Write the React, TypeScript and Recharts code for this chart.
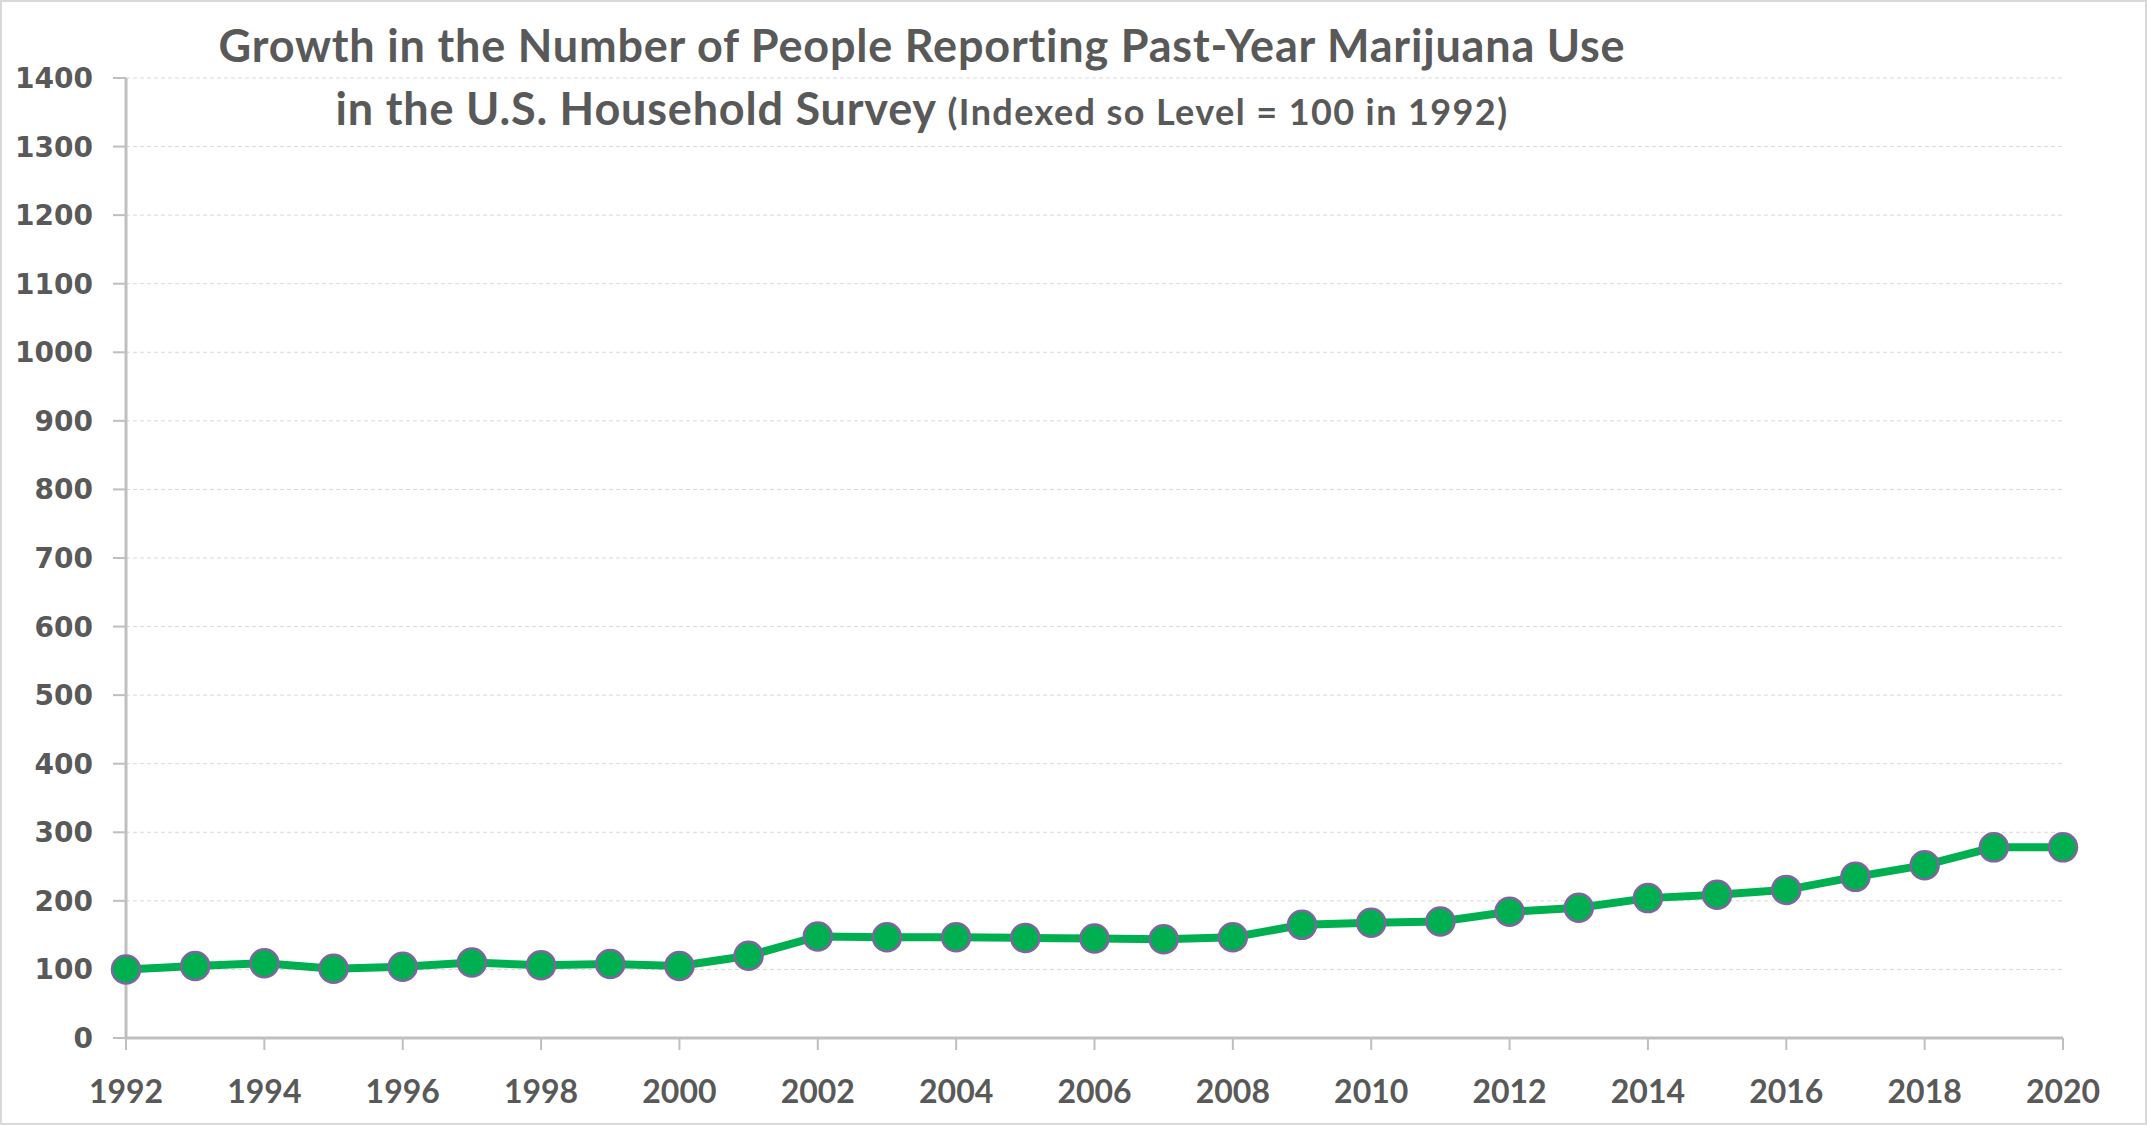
import { LineChart, Line, XAxis, YAxis, CartesianGrid } from "recharts";

const years = [
  1992, 1993, 1994, 1995, 1996, 1997, 1998, 1999, 2000, 2001, 2002, 2003, 2004, 2005, 2006,
  2007, 2008, 2009, 2010, 2011, 2012, 2013, 2014, 2015, 2016, 2017, 2018, 2019, 2020,
];
const indexValues = [
  100, 105, 109, 101, 104, 110, 106, 108, 105, 120, 148, 147, 147, 146, 145,
  144, 147, 165, 168, 170, 184, 190, 204, 209, 216, 235, 252, 278, 278,
];
const xTicks = [1992, 1994, 1996, 1998, 2000, 2002, 2004, 2006, 2008, 2010, 2012, 2014, 2016, 2018, 2020];
const xMinorTicks = Array.from({ length: 71 }, (_, i) => 1992 + i * 0.4);
const yTicks = [0, 100, 200, 300, 400, 500, 600, 700, 800, 900, 1000, 1100, 1200, 1300, 1400];
const yMinorTicks = Array.from({ length: 29 }, (_, i) => i * 50);

const data = years.map((year, i) => ({ year, value: indexValues[i] }));

const grey = "#595959";
const axisGrey = "#BFBFBF";

export default function App() {
  return (
    <div
      style={{
        position: "relative",
        width: 2147,
        height: 1125,
        border: "2px solid #D9D9D9",
        boxSizing: "border-box",
        background: "#fff",
      }}
    >
      <style>{`body{margin:0}`}</style>
      <div
        style={{
          position: "absolute",
          left: 0,
          top: 12,
          width: 1840,
          textAlign: "center",
          fontFamily: "Lato, sans-serif",
          fontWeight: 700,
          color: grey,
          fontSize: 45,
          letterSpacing: 0.8,
          lineHeight: "63px",
        }}
      >
        <div>Growth in the Number of People Reporting Past-Year Marijuana Use</div>
        <div>
          in the U.S. Household Survey{" "}
          <span style={{ fontSize: 36, letterSpacing: 1.4 }}>(Indexed so Level = 100 in 1992)</span>
        </div>
      </div>
      <div style={{ position: "absolute", left: -2, top: -2 }}>
        <LineChart width={2147} height={1125} data={data} margin={{ top: 78, right: 84, bottom: 0, left: 0 }}>
          <CartesianGrid vertical={false} stroke="#D9D9D9" strokeDasharray="4 3" />
          <XAxis
            xAxisId="minor"
            dataKey="year"
            type="number"
            domain={[1992, 2020]}
            ticks={xMinorTicks}
            interval={0}
            height={0}
            mirror
            tick={false}
            tickSize={9}
            axisLine={false}
            tickLine={{ stroke: axisGrey, strokeWidth: 2 }}
          />
          <XAxis
            dataKey="year"
            type="number"
            domain={[1992, 2020]}
            ticks={xTicks}
            interval={0}
            height={87}
            tickSize={12}
            tickMargin={30}
            axisLine={{ stroke: axisGrey, strokeWidth: 3 }}
            tickLine={{ stroke: axisGrey, strokeWidth: 2 }}
            tick={{ fill: grey, fontSize: 32, fontWeight: 700, fontFamily: "Lato, sans-serif" }}
          />
          <YAxis
            yAxisId="minor"
            domain={[0, 1400]}
            ticks={yMinorTicks}
            interval={0}
            width={0}
            mirror
            tick={false}
            tickSize={10}
            axisLine={false}
            tickLine={{ stroke: axisGrey, strokeWidth: 2 }}
          />
          <YAxis
            domain={[0, 1400]}
            ticks={yTicks}
            interval={0}
            width={126}
            tickSize={13}
            tickMargin={20}
            axisLine={{ stroke: axisGrey, strokeWidth: 3 }}
            tickLine={{ stroke: axisGrey, strokeWidth: 2 }}
            tick={{ fill: grey, fontSize: 28, fontWeight: 700, fontFamily: "DejaVu Sans, sans-serif" }}
          />
          <Line
            dataKey="value"
            stroke="#00B050"
            strokeWidth={8}
            dot={{ r: 14, fill: "#00B050", stroke: "#8064A2", strokeWidth: 2.5 }}
            isAnimationActive={false}
          />
        </LineChart>
      </div>
    </div>
  );
}
